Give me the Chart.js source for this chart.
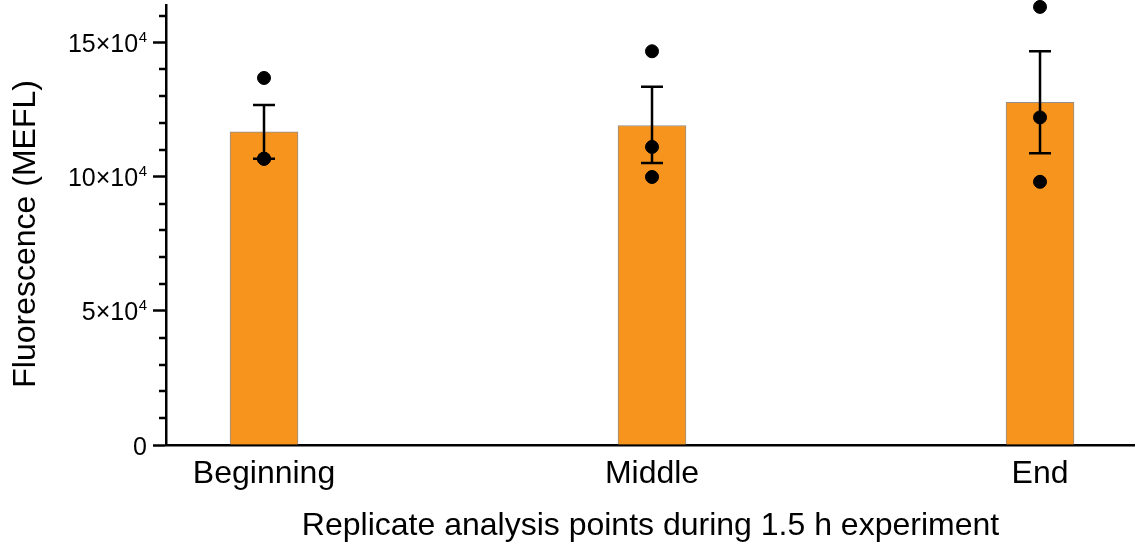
<!DOCTYPE html>
<html>
<head>
<meta charset="utf-8">
<script src="https://cdn.jsdelivr.net/npm/chart.js@4.4.1/dist/chart.umd.min.js"></script>
<style>
  html, body { margin: 0; padding: 0; background: #fff; }
  #wrap { width: 1135px; height: 545px; }
</style>
</head>
<body>
<div id="wrap"><canvas id="chart" width="1135" height="545"></canvas></div>
<script>
// ---- data ----
const categories = ['Beginning', 'Middle', 'End'];
const means = [116700, 119100, 127700];
const errHigh = [126750, 133500, 146750];
const errLow = [106700, 105100, 108700];
const replicates = [
  [136800, 106700, 106700],
  [146750, 111100, 99900],
  [163300, 122100, 98100]
];
const yMajorTicks = [0, 50000, 100000, 150000];
const yTickMantissa = ['0', '5', '10', '15'];   // shown as N×10^4
const yMinorStep = 10000;

// ---- build library data ----
const barPoints = means.map((v, i) => ({ x: i, y: v }));
const dotPoints = [];
replicates.forEach((reps, i) => reps.forEach(v => dotPoints.push({ x: i, y: v })));

const FONT = '"Liberation Sans", Arial, Helvetica, sans-serif';

// error bars drawn right after the bars
const errorBars = {
  id: 'errorBars',
  afterDatasetDraw(chart, args) {
    if (args.index !== 0) return;
    const ctx = chart.ctx;
    const xs = chart.scales.x, ys = chart.scales.y;
    ctx.save();
    ctx.strokeStyle = '#000';
    ctx.lineWidth = 2.5;
    means.forEach((m, i) => {
      const px = xs.getPixelForValue(i);
      const top = ys.getPixelForValue(errHigh[i]);
      const bot = ys.getPixelForValue(errLow[i]);
      ctx.beginPath();
      ctx.moveTo(px, top); ctx.lineTo(px, bot);
      ctx.moveTo(px - 11, top); ctx.lineTo(px + 11, top);
      ctx.moveTo(px - 11, bot); ctx.lineTo(px + 11, bot);
      ctx.stroke();
    });
    ctx.restore();
  }
};

// minor ticks + y tick labels with a real superscript
const yAxisExtras = {
  id: 'yAxisExtras',
  afterDraw(chart) {
    const ys = chart.scales.y;
    const ctx = chart.ctx;
    const x0 = chart.chartArea.left;
    ctx.save();
    ctx.strokeStyle = '#000';
    ctx.lineWidth = 2.5;
    for (let v = yMinorStep; v <= ys.max; v += yMinorStep) {
      if (yMajorTicks.includes(v)) continue;
      const py = Math.round(ys.getPixelForValue(v));
      ctx.beginPath();
      ctx.moveTo(x0 - 7, py);
      ctx.lineTo(x0, py);
      ctx.stroke();
    }
    // labels
    const right = x0 - 19;
    ctx.fillStyle = '#000';
    ctx.textBaseline = 'alphabetic';
    ctx.textAlign = 'right';
    yMajorTicks.forEach((v, i) => {
      const py = ys.getPixelForValue(v);
      if (v === 0) {
        ctx.font = '25px ' + FONT;
        ctx.fillText('0', right, py + 9.5);
        return;
      }
      ctx.font = '15px ' + FONT;
      const supW = ctx.measureText('4').width;
      ctx.fillText('4', right, py - 0.5);
      ctx.font = '25px ' + FONT;
      ctx.fillText(yTickMantissa[i] + '\u00d710', right - supW - 0.5, py + 9.5);
    });
    ctx.restore();
  }
};

new Chart(document.getElementById('chart'), {
  type: 'bar',
  data: {
    datasets: [
      {
        type: 'bar',
        data: barPoints,
        backgroundColor: '#F7941E',
        borderColor: '#8f8f8f',
        borderWidth: 1,
        barThickness: 68,
        order: 1
      },
      {
        type: 'scatter',
        data: dotPoints,
        backgroundColor: '#000',
        borderColor: '#000',
        pointRadius: 6.5,
        pointHoverRadius: 6.5,
        clip: false,
        order: 0
      }
    ]
  },
  options: {
    responsive: false,
    animation: false,
    layout: { autoPadding: false, padding: { top: 5, right: 0, left: 0, bottom: 0 } },
    plugins: {
      legend: { display: false },
      tooltip: { enabled: false }
    },
    scales: {
      x: {
        type: 'linear',
        offset: false,
        min: -0.2526,
        max: 2.2448,
        afterBuildTicks: s => { s.ticks = categories.map((c, i) => ({ value: i })); },
        afterFit: s => { s.height = 100; s.paddingLeft = 0; s.paddingRight = 0; },
        grid: { display: false, drawTicks: false },
        border: { display: true, color: '#000', width: 2.5 },
        ticks: {
          color: '#000',
          padding: 10,
          font: { family: FONT, size: 32 },
          callback: v => categories[v] ?? ''
        },
        title: {
          display: true,
          text: 'Replicate analysis points during 1.5 h experiment',
          color: '#000',
          font: { family: FONT, size: 32 },
          padding: { top: 3, bottom: 0 }
        }
      },
      y: {
        min: 0,
        max: 164000,
        afterBuildTicks: s => { s.ticks = yMajorTicks.map(v => ({ value: v })); },
        afterFit: s => { s.width = 166; s.paddingTop = 0; s.paddingBottom = 0; },
        grid: {
          drawOnChartArea: false,
          drawTicks: true,
          tickLength: 13,
          tickWidth: 2.5,
          tickColor: '#000'
        },
        border: { display: true, color: '#000', width: 2.5 },
        ticks: { display: false },
        title: {
          display: true,
          text: 'Fluorescence (MEFL)  ',
          color: '#000',
          font: { family: FONT, size: 32 },
          padding: { top: 7, bottom: 0 }
        }
      }
    }
  },
  plugins: [errorBars, yAxisExtras]
});
</script>
</body>
</html>
